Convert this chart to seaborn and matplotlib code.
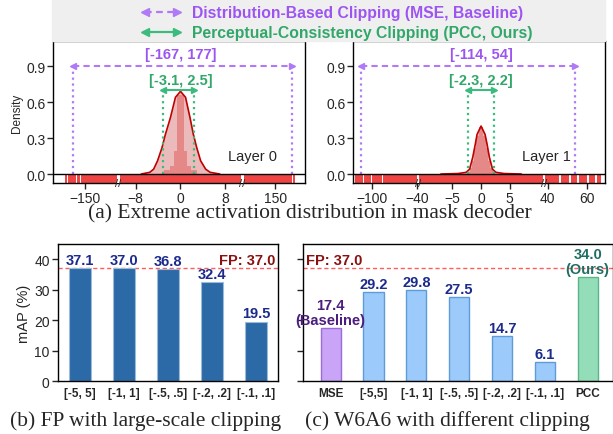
import numpy as np
import seaborn as sns
import matplotlib.pyplot as plt
from matplotlib.patches import Rectangle
from matplotlib.lines import Line2D
import matplotlib.transforms as mtransforms

# ---- data ----
# (a) density curves of the activations (x, density)
l0_x = [-7.0, -5.5, -4.8, -4.1, -3.3, -2.7, -1.8, -0.9, 0.0, 0.9, 1.7, 2.3, 2.9, 3.6, 4.5, 5.3, 7.0]
l0_y = [0.0, 0.014, 0.04, 0.11, 0.22, 0.33, 0.47, 0.64, 0.69, 0.64, 0.47, 0.33, 0.22, 0.11, 0.04, 0.014, 0.0]
l1_x = [-7.0, -4.0, -2.6, -2.0, -1.45, -1.0, -0.7, 0.0, 0.7, 1.04, 1.45, 2.0, 2.6, 4.0, 7.0]
l1_y = [0.0, 0.004, 0.014, 0.04, 0.14, 0.25, 0.33, 0.40, 0.33, 0.25, 0.14, 0.04, 0.014, 0.004, 0.0]

# histogram bins and heights
l0_edges = [-3.0, -2.4, -1.8, -1.2, -0.6, 0.0, 0.6, 1.2, 1.8, 2.4, 3.0]
l0_hist = [0.03, 0.03, 0.07, 0.19, 0.66, 0.66, 0.19, 0.07, 0.03, 0.03]
l1_edges = [-2.4, -2.0, -1.6, -1.2, -0.8, -0.4, 0.0, 0.4, 0.8, 1.2, 1.6, 2.0, 2.4]
l1_hist = [0.02, 0.05, 0.11, 0.22, 0.32, 0.39, 0.39, 0.32, 0.22, 0.11, 0.05, 0.02]

# intervals covered by the activation rug
l0_rug = [(-179, -176), (-175, -171), (-170, -163), (-162, -157), (-156, 165),
          (166, 171), (172, 177), (178, 181)]
l1_rug = [(-122, -112), (-111, -101), (-100, -95), (-94, -86), (-85, 46),
          (47, 51), (52, 55), (56, 60), (61, 64), (65, 67)]

# clipping ranges
l0_mse = (-167, 177)
l0_pcc = (-3.1, 2.5)
l1_mse = (-114, 54)
l1_pcc = (-2.3, 2.2)

# (b) FP with large-scale clipping
fp_labels = ["[-5, 5]", "[-1, 1]", "[-.5, .5]", "[-.2, .2]", "[-.1, .1]"]
fp_map = [37.1, 37.0, 36.8, 32.4, 19.5]
fp_ref = 37.0

# (c) W6A6 with different clipping
w6_labels = ["MSE", "[-5,5]", "[-1, 1]", "[-.5, .5]", "[-.2, .2]", "[-.1, .1]", "PCC"]
w6_map = [17.4, 29.2, 29.8, 27.5, 14.7, 6.1, 34.0]

# ---- style ----
sns.set_theme(style="ticks")
plt.rcParams['font.family'] = ['Liberation Sans', 'DejaVu Sans']
plt.rcParams['axes.edgecolor'] = 'black'
plt.rcParams['axes.linewidth'] = 1.0

purple = '#9d55f2'
purple_l = '#b07af6'
green = '#32a76a'
green_l = '#3cbc7c'
rug_red = '#ef4444'
curve_red = '#c00000'

fig = plt.figure(figsize=(6.13, 4.35), dpi=100)

# legend background
fig.patches.append(Rectangle((0.085, 0.903), 0.902, 0.097, transform=fig.transFigure,
                             color='#efefef', zorder=0))
for yy, col, tcol, ls, txt in [
        (0.969, purple_l, purple, (0, (3, 2)), "Distribution-Based Clipping (MSE, Baseline)"),
        (0.923, green_l, green, '-', "Perceptual-Consistency Clipping (PCC, Ours)")]:
    fig.add_artist(Line2D([0.236, 0.286], [yy, yy], color=col, lw=1.6, ls=ls, transform=fig.transFigure))
    fig.add_artist(Line2D([0.236], [yy], marker='<', ms=6, color=col, transform=fig.transFigure))
    fig.add_artist(Line2D([0.288], [yy], marker='>', ms=6, color=col, transform=fig.transFigure))
    fig.text(0.313, yy, txt, color=tcol, fontsize=11.3, fontweight='bold', va='center', ha='left')


def piecewise(bx, bp):
    bx = np.asarray(bx, float)
    bp = np.asarray(bp, float)
    return (lambda x: np.interp(x, bx, bp)), (lambda p: np.interp(p, bp, bx))


panels = [
    dict(rect=[0.0865, 0.577, 0.411, 0.326], bx=[-196, -105, -10.8, 10.8, 100, 197],
         bp=[0, 64, 67, 188, 191, 252], ticks=[-150, -8, 0, 8, 150],
         cx=l0_x, cy=l0_y, edges=l0_edges, hist=l0_hist, rug=l0_rug, mse=l0_mse, pcc=l0_pcc,
         name="Layer 0", lx=0.79, ylabel="Density"),
    dict(rect=[0.576, 0.577, 0.411, 0.326], bx=[-125, -40, -10.8, 10.8, 38.7, 69],
         bp=[0, 64, 66, 190, 192, 252], ticks=[-100, -40, -5, 0, 5, 40, 60],
         cx=l1_x, cy=l1_y, edges=l1_edges, hist=l1_hist, rug=l1_rug, mse=l1_mse, pcc=l1_pcc,
         name="Layer 1", lx=0.766, ylabel=""),
]

ylo = -0.075
for p in panels:
    ax = fig.add_axes(p['rect'])
    ax.set_xscale('function', functions=piecewise(p['bx'], p['bp']))
    ax.set_xlim(p['bx'][0], p['bx'][-1])
    ax.set_ylim(ylo, 1.108)
    band = -ylo / (1.108 - ylo)

    # kde fill + histogram + curve
    ax.fill_between(p['cx'], p['cy'], 0, color='#e8b0b0', alpha=0.85, lw=0, zorder=1)
    e = np.asarray(p['edges'])
    ax.bar(e[:-1], p['hist'], width=np.diff(e), align='edge', color='#e47878', alpha=0.75,
           lw=0, zorder=2)
    sns.lineplot(x=p['cx'], y=p['cy'], color=curve_red, lw=1.2, ax=ax, zorder=3)

    # rug band
    for lo, hi in p['rug']:
        ax.axvspan(lo, hi, ymin=0, ymax=band, color=rug_red, lw=0, zorder=2)
    # axis breaks
    trans = mtransforms.blended_transform_factory(ax.transData, ax.transAxes)
    for a, b in [(p['bx'][1], p['bx'][2]), (p['bx'][3], p['bx'][4])]:
        ax.axvspan(a, b, ymin=0, ymax=band + 0.01, color='white', lw=0, zorder=4)
        ax.text((a + b) / 2, 0.0, '//', transform=trans, ha='center', va='center',
                fontsize=8, clip_on=False, zorder=6)
    ax.axhline(0, color='black', lw=1.0, zorder=5)

    # clipping ranges
    lo, hi = p['mse']
    ax.vlines([lo, hi], 0, 0.9, colors=purple_l, linestyles=':', lw=1.6, zorder=4)
    ax.plot([lo, hi], [0.9, 0.9], color=purple_l, ls=(0, (3, 2)), lw=1.5, zorder=4)
    ax.plot([lo], [0.9], marker='<', ms=5, color=purple_l, zorder=4)
    ax.plot([hi], [0.9], marker='>', ms=5, color=purple_l, zorder=4)
    ax.text(0, 0.94, f"[{lo:g}, {hi:g}]", color=purple, fontsize=10.5, fontweight='bold',
            ha='center', va='bottom')
    lo, hi = p['pcc']
    ax.vlines([lo, hi], 0, 0.70, colors=green_l, linestyles=':', lw=1.6, zorder=4)
    ax.plot([lo, hi], [0.70, 0.70], color=green_l, lw=1.5, zorder=4)
    ax.plot([lo], [0.70], marker='<', ms=4, color=green_l, zorder=4)
    ax.plot([hi], [0.70], marker='>', ms=4, color=green_l, zorder=4)
    ax.text(0, 0.73, f"[{lo:g}, {hi:g}]", color=green, fontsize=10.5, fontweight='bold',
            ha='center', va='bottom')

    ax.text(p['lx'], 0.19, p['name'], transform=ax.transAxes, fontsize=10.5,
            ha='center', va='center')
    ax.set_xticks(p['ticks'])
    ax.set_xticklabels([f"{t:g}".replace('-', '\u2212') for t in p['ticks']])
    ax.set_yticks([0.0, 0.3, 0.6, 0.9])
    ax.set_yticklabels(['0.0', '0.3', '0.6', '0.9'])
    ax.tick_params(axis='both', labelsize=10, length=4, width=1, pad=1.5)
    ax.set_ylabel(p['ylabel'], fontsize=8.5, labelpad=2)
    ax.set_xlabel('')

cap_font = dict(family='Liberation Serif', fontsize=15.5, ha='center', va='center')
fig.text(0.506, 0.508, "(a) Extreme activation distribution in mask decoder", **cap_font)

# ---- (b) ----
axb = fig.add_axes([0.0946, 0.1218, 0.359, 0.315])
sns.barplot(x=fp_labels, y=fp_map, color='#2c6aa7', width=0.5, saturation=1,
            edgecolor='#9dbbd8', linewidth=0.8, ax=axb)
axb.axhline(fp_ref, color='#ff5c5c', ls=(0, (3, 2)), lw=1.0, zorder=0.5)
for i, v in enumerate(fp_map):
    axb.text(i, v + 0.4, f"{v:.1f}", ha='center', va='bottom', color='#1b2a8c',
             fontsize=10.5, fontweight='bold')
axb.text(len(fp_map) - 0.55, fp_ref + 0.6, f"FP: {fp_ref:.1f}", ha='right', va='bottom',
         color='#8b1010', fontsize=10.5, fontweight='bold')
axb.set_ylim(0, 45)
axb.set_xlim(-0.5, len(fp_map) - 0.5)
axb.set_yticks([0, 10, 20, 30, 40])
axb.set_ylabel("mAP (%)", fontsize=10.5, labelpad=2)
axb.tick_params(axis='y', labelsize=10, length=4, width=1, pad=2)
axb.tick_params(axis='x', length=0, pad=4)
for t in axb.get_xticklabels():
    t.set_fontsize(8.5)
    t.set_fontweight('bold')
for s in axb.spines.values():
    s.set_visible(True)
fig.text(0.238, 0.033, "(b) FP with large-scale clipping", **cap_font)

# ---- (c) ----
w6_colors = ['#c9a4f7'] + ['#9ccbfb'] * 5 + ['#93ddb8']
w6_edges = ['#9a6ed8'] + ['#5e9bd8'] * 5 + ['#5bb58a']
axc = fig.add_axes([0.494, 0.1218, 0.506, 0.315])
sns.barplot(x=w6_labels, y=w6_map, hue=w6_labels, palette=w6_colors, legend=False,
            width=0.47, saturation=1, linewidth=1.0, ax=axc)
for patch, ec in zip(axc.patches, w6_edges):
    patch.set_edgecolor(ec)
axc.axhline(fp_ref, color='#ff5c5c', ls=(0, (3, 2)), lw=1.0, zorder=0.5)
label_cols = ['#4b1d7e'] + ['#1b2a8c'] * 5 + ['#1f6e63']
for i, v in enumerate(w6_map):
    txt = f"{v:.1f}"
    if i == 0:
        txt += "\n(Baseline)"
    elif i == len(w6_map) - 1:
        txt += "\n(Ours)"
    axc.text(i, v + 0.4, txt, ha='center', va='bottom', color=label_cols[i],
             fontsize=10.5, fontweight='bold', linespacing=1.1)
axc.text(-0.57, fp_ref + 0.6, f"FP: {fp_ref:.1f}", ha='left', va='bottom',
         color='#8b1010', fontsize=10.5, fontweight='bold')
axc.set_ylim(0, 45)
axc.set_xlim(-0.65, 6.59)
axc.set_yticks([0, 10, 20, 30, 40])
axc.set_yticklabels([])
axc.set_ylabel('')
axc.tick_params(axis='y', length=4, width=1)
axc.tick_params(axis='x', length=0, pad=4)
for t in axc.get_xticklabels():
    t.set_fontsize(8.5)
    t.set_fontweight('bold')
for s in axc.spines.values():
    s.set_visible(True)
fig.text(0.729, 0.033, "(c) W6A6 with different clipping", **cap_font)

fig.savefig("out.png", dpi=100)
